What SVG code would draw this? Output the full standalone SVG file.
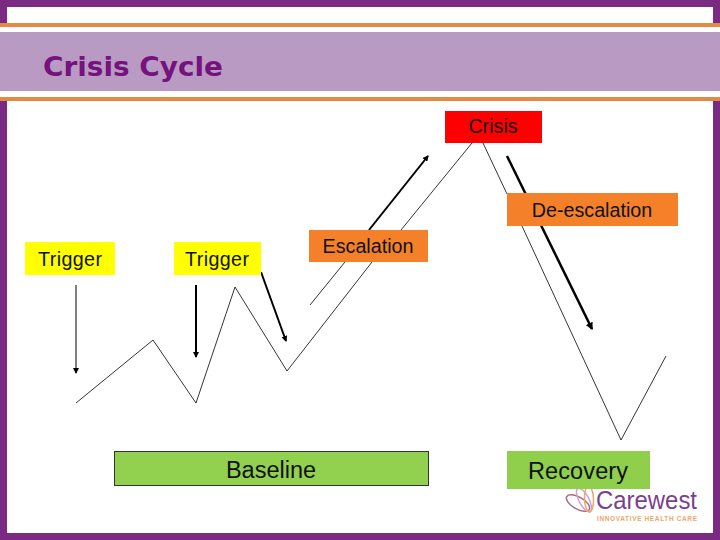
<svg xmlns="http://www.w3.org/2000/svg" width="720" height="540" viewBox="0 0 720 540">
<style>
.t{font-family:"Liberation Sans",Arial,sans-serif;font-size:19.700px;fill:#111;text-anchor:middle}
.b{font-size:23.500px}
.l{fill:none;stroke:#000;stroke-width:.8}
.a{fill:none;stroke:#000;stroke-linecap:butt}
</style>
<defs>
<marker id="h" viewBox="0 0 6 6" refX="5" refY="3" markerWidth="3" markerHeight="3" orient="auto" markerUnits="strokeWidth"><path d="M0 0L6 3L0 6Z" fill="#000"/></marker>
<marker id="h1" viewBox="0 0 6 6" refX="5" refY="3" markerWidth="6" markerHeight="6" orient="auto" markerUnits="strokeWidth"><path d="M0 0L6 3L0 6Z" fill="#000"/></marker>
</defs>
<rect width="720" height="540" fill="#fff"/>
<g id="frame">
<rect x="0" y="0" width="720" height="7" fill="#7b2a83"/>
<rect x="0" y="0" width="7" height="24" fill="#7b2a83"/>
<rect x="713" y="0" width="7" height="24" fill="#7b2a83"/>
<rect x="0" y="101" width="7" height="439" fill="#7b2a83"/>
<rect x="713" y="101" width="7" height="439" fill="#7b2a83"/>
<rect x="0" y="533" width="720" height="7" fill="#7b2a83"/>
<rect x="0" y="23" width="720" height="4" fill="#e58a45"/>
<rect x="0" y="32" width="720" height="59" fill="#b99ac2"/>
<rect x="0" y="97" width="720" height="4" fill="#e58a45"/>
<text x="43" y="76" font-family="'DejaVu Sans',sans-serif" font-size="27" font-weight="700" fill="#75127e" textLength="180" lengthAdjust="spacingAndGlyphs">Crisis Cycle</text>
</g>
<g id="connectors">
<polyline class="l" points="76,403 153,340 196,403 235,287 287,371 372,262"/>
<line class="l" x1="310" y1="305" x2="349" y2="257"/>
<line class="l" x1="401" y1="230" x2="472" y2="143"/>
<polyline class="l" points="483,143 507,194"/>
<polyline class="l" points="522,226 621,440 666,356"/>
<line class="a" stroke-width="1" x1="76" y1="285" x2="76" y2="373" marker-end="url(#h1)"/>
<line class="a" stroke-width="2" x1="196" y1="285" x2="196" y2="357" marker-end="url(#h)"/>
<line class="a" stroke-width="2" x1="261" y1="272" x2="286" y2="341" marker-end="url(#h)"/>
<line class="a" stroke-width="2" x1="369" y1="230" x2="428" y2="156" marker-end="url(#h)"/>
<line class="a" stroke-width="2.500" x1="507" y1="156" x2="592" y2="329" marker-end="url(#h)"/>
</g>
<g id="crisis"><rect x="445" y="111" width="97" height="32" fill="#fe0000"/><text class="t" x="493" y="133">Crisis</text></g>
<g id="de-escalation"><rect x="507" y="193" width="171" height="33" fill="#f4812a"/><text class="t" x="592" y="217">De-escalation</text></g>
<g id="escalation"><rect x="309" y="230" width="119" height="32" fill="#f4812a"/><text class="t" x="368" y="253">Escalation</text></g>
<g id="trigger1"><rect x="25" y="242" width="90" height="33" fill="#ffff00"/><text class="t" x="70" y="266" textLength="64">Trigger</text></g>
<g id="trigger2"><rect x="174" y="242" width="87" height="33" fill="#ffff00"/><text class="t" x="217" y="266" textLength="64">Trigger</text></g>
<g id="baseline"><rect x="114.500" y="451.500" width="314" height="34" fill="#92d050" stroke="#333"/><text class="t b" x="271" y="478">Baseline</text></g>
<g id="logo">
<g fill="none" stroke-width="1.500">
<ellipse cx="578" cy="503" rx="13" ry="6" transform="rotate(30 578 503)" stroke="#a8698a"/>
<ellipse cx="584" cy="500" rx="13" ry="5" transform="rotate(62 584 500)" stroke="#c8a9d0"/>
<ellipse cx="589" cy="499" rx="13" ry="4.500" transform="rotate(88 589 499)" stroke="#eba76b"/>
</g>
<text x="596" y="509" font-family="'Liberation Sans',sans-serif" font-size="25" fill="#7b3f8f" textLength="101" lengthAdjust="spacingAndGlyphs">Carewest</text>
<text x="597" y="520.500" font-family="'Liberation Sans',sans-serif" font-size="6.500" font-weight="700" fill="#eba76b" textLength="100" lengthAdjust="spacing">INNOVATIVE HEALTH CARE</text>
</g>
<g id="recovery"><rect x="507" y="451" width="143" height="38" fill="#8fcf4c"/><text class="t b" x="578" y="479" textLength="100">Recovery</text></g>
</svg>
